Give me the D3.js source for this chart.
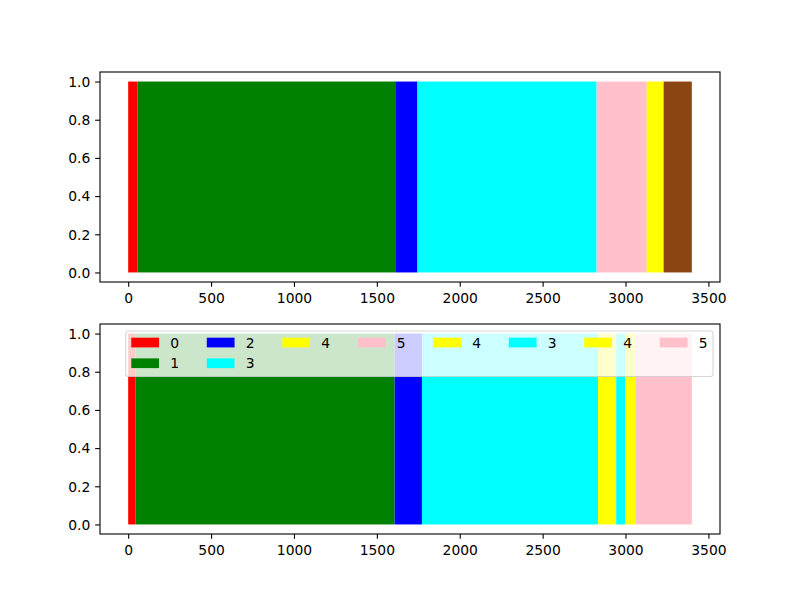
<!DOCTYPE html>
<html>
<head>
<meta charset="utf-8">
<script src="https://cdn.jsdelivr.net/npm/d3@7/dist/d3.min.js"></script>
<style>
  html, body { margin: 0; padding: 0; background: #fff; }
  svg { display: block; font-family: "DejaVu Sans", sans-serif; }
</style>
</head>
<body>
<svg id="chart" width="800" height="600"></svg>
<script>
// ---- data ----
const topStarts = [0, 55, 1611, 1745, 2826, 3128, 3230];
const topEnds   = [55, 1611, 1745, 2826, 3128, 3230, 3400];
const topColors = ["#ff0000", "#008000", "#0000ff", "#00ffff", "#ffc0cb", "#ffff00", "#8b4513"];

const botStarts = [0, 43, 1607, 1772, 2834, 2944, 2999, 3059];
const botEnds   = [43, 1607, 1772, 2834, 2944, 2999, 3059, 3400];
const botColors = ["#ff0000", "#008000", "#0000ff", "#00ffff", "#ffff00", "#00ffff", "#ffff00", "#ffc0cb"];

const legendLabels = ["0", "1", "2", "3", "4", "5", "4", "3", "4", "5"];
const legendColors = ["#ff0000", "#008000", "#0000ff", "#00ffff", "#ffff00", "#ffc0cb", "#ffff00", "#00ffff", "#ffff00", "#ffc0cb"];
const legendCols = 8;

const xTicks = [0, 500, 1000, 1500, 2000, 2500, 3000, 3500];
const yTicks = [0.0, 0.2, 0.4, 0.6, 0.8, 1.0];

// ---- layout ----
const svg = d3.select("#chart");
const FS = 13.89;          // 10pt at 100 dpi
const tickLen = 4.86, tickPad = 4.86;
const axL = 100, axR = 720;
const panels = [
  { top: 72, bottom: 282, starts: topStarts, ends: topEnds, colors: topColors, legend: false },
  { top: 324, bottom: 534, starts: botStarts, ends: botEnds, colors: botColors, legend: true }
];

const x = d3.scaleLinear().domain([-170, 3570]).range([axL, axR]);

panels.forEach(p => {
  const y = d3.scaleLinear().domain([-0.05, 1.05]).range([p.bottom, p.top]);
  const g = svg.append("g");

  // bars
  g.selectAll("rect.bar")
    .data(p.starts.map((s, i) => ({ s, e: p.ends[i], c: p.colors[i] })))
    .join("rect")
    .attr("class", "bar")
    .attr("x", d => x(d.s))
    .attr("width", d => x(d.e) - x(d.s))
    .attr("y", y(1))
    .attr("height", y(0) - y(1))
    .attr("fill", d => d.c);

  // axes
  const xa = g.append("g")
    .attr("transform", `translate(0,${p.bottom})`)
    .call(d3.axisBottom(x).tickValues(xTicks).tickFormat(d3.format("d"))
      .tickSize(tickLen).tickPadding(tickPad));
  const ya = g.append("g")
    .attr("transform", `translate(${axL},0)`)
    .call(d3.axisLeft(y).tickValues(yTicks).tickFormat(d3.format(".1f"))
      .tickSize(tickLen).tickPadding(tickPad));
  [xa, ya].forEach(a => {
    a.select(".domain").remove();
    a.selectAll("line").attr("stroke", "#000").attr("stroke-width", 1.1);
    a.selectAll("text").attr("fill", "#000").style("font-size", FS + "px")
      .style("font-family", "'DejaVu Sans', sans-serif");
  });
  xa.selectAll("text").attr("dy", "0.83em");
  ya.selectAll("text").attr("dy", "0.34em");

  // frame
  g.append("rect")
    .attr("x", axL).attr("y", p.top)
    .attr("width", axR - axL).attr("height", p.bottom - p.top)
    .attr("fill", "none").attr("stroke", "#000").attr("stroke-width", 1.1);

  if (p.legend) {
    const handleW = 2.0 * FS * 1.0, handleH = 0.7 * FS;
    const textPad = 0.8 * FS, colSpace = 2.0 * FS, borderPad = 0.4 * FS;
    const n = legendLabels.length;
    const rows = Math.ceil(n / legendCols);
    // matplotlib column-major distribution
    const extra = n % legendCols;
    const colCounts = d3.range(legendCols).map(c => (extra === 0 ? rows : (c < extra ? rows : rows - 1)));
    const cols = [];
    let idx = 0;
    colCounts.forEach(cnt => { cols.push(d3.range(idx, idx + cnt)); idx += cnt; });

    const lg = g.append("g");
    // measure text widths
    const tmp = lg.append("text").style("font-size", FS + "px");
    const widths = legendLabels.map(t => { tmp.text(t); return tmp.node().getComputedTextLength(); });
    tmp.remove();
    const colW = cols.map(c => handleW + textPad + d3.max(c, i => widths[i]));
    const totalW = 2 * borderPad + d3.sum(colW) + colSpace * (legendCols - 1);
    const rowStep = 20.7;
    const boxH = 45.6;
    const boxR = axR - 0.5 * FS;
    const boxL = boxR - totalW;
    const boxT = p.top + 0.5 * FS;

    lg.append("rect")
      .attr("x", boxL).attr("y", boxT)
      .attr("width", totalW).attr("height", boxH)
      .attr("rx", 2.8).attr("ry", 2.8)
      .attr("fill", "#fff").attr("fill-opacity", 0.8)
      .attr("stroke", "#cccccc").attr("stroke-opacity", 0.8).attr("stroke-width", 1.1);

    let cx = boxL + borderPad;
    cols.forEach((c, ci) => {
      c.forEach((i, ri) => {
        const cy = boxT + 11.6 + ri * rowStep;
        lg.append("rect")
          .attr("x", cx).attr("y", cy - handleH / 2)
          .attr("width", handleW).attr("height", handleH)
          .attr("fill", legendColors[i]);
        lg.append("text")
          .attr("x", cx + handleW + textPad).attr("y", cy)
          .attr("dy", "0.36em")
          .style("font-size", FS + "px")
          .attr("fill", "#000")
          .text(legendLabels[i]);
      });
      cx += colW[ci] + colSpace;
    });
  }
});
</script>
</body>
</html>
